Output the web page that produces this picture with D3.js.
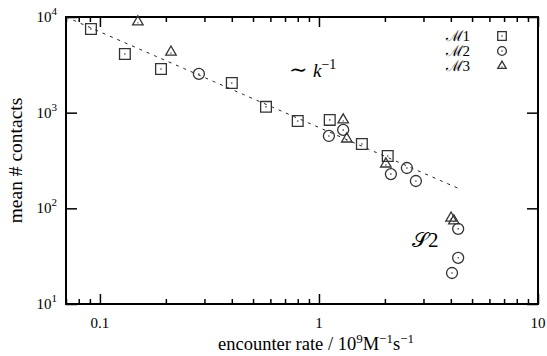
<!DOCTYPE html>
<html>
<head>
<meta charset="utf-8">
<script src="https://cdn.jsdelivr.net/npm/d3@7/dist/d3.min.js"></script>
<style>
  html, body { margin: 0; padding: 0; background: #fff; }
  svg { display: block; }
  text { font-family: "Liberation Serif", "DejaVu Serif", serif; fill: #000; }
</style>
</head>
<body>
<svg id="chart" width="547" height="356"></svg>
<script>
// Encounter rate (10^9 M^-1 s^-1) and mean number of contacts for three models
const m1Rate = [0.091, 0.130, 0.19, 0.40, 0.573, 0.80, 1.12, 1.57, 2.06];
const m1Contacts = [7500, 4100, 2860, 2040, 1150, 818, 840, 471, 353];

const m2Rate = [0.283, 1.11, 1.29, 2.13, 2.52, 2.77, 4.32, 4.32, 4.05];
const m2Contacts = [2540, 571, 660, 228, 264, 193, 61, 30.4, 21.1];

const m3Rate = [0.149, 0.211, 1.29, 1.34, 2.02, 4.01, 4.13];
const m3Contacts = [8900, 4300, 840, 531, 291, 79, 74];

// Reference power law  contacts ~ C / k
const fitConst = 700;
const fitRange = [0.07, 4.4];

const xTicks = [0.1, 1, 10];
const xTickLabels = ["0.1", "1", "10"];
const xMinorTicks = [0.07, 0.08, 0.09, 0.2, 0.3, 0.4, 0.5, 0.6, 0.7, 0.8, 0.9,
                     2, 3, 4, 5, 6, 7, 8, 9];
const yTicks = [10, 100, 1000, 10000];
const yTickExp = ["1", "2", "3", "4"];

const seriesNames = ["1", "2", "3"];

const svg = d3.select("#chart");
const margin = {left: 66, right: 9, top: 17, bottom: 52};
const W = 547, H = 356;
const iw = W - margin.left - margin.right;
const ih = H - margin.top - margin.bottom;

const x = d3.scaleLog().domain([0.07, 10]).range([margin.left, margin.left + iw]);
const y = d3.scaleLog().domain([10, 10000]).range([margin.top + ih, margin.top]);

const g = svg.append("g");

// tick marks, drawn inward on all four sides
function tickAxis(axisFn, scale, vals, size, transform) {
  const a = axisFn(scale).tickValues(vals).tickSize(size).tickFormat("");
  const sel = g.append("g").attr("transform", transform).call(a);
  sel.select(".domain").remove();
  sel.selectAll("line").attr("stroke", "#000").attr("stroke-width", 1.5);
  return sel;
}
tickAxis(d3.axisBottom, x, xTicks, -10, `translate(0,${margin.top + ih})`);
tickAxis(d3.axisBottom, x, xMinorTicks, -5, `translate(0,${margin.top + ih})`);
tickAxis(d3.axisTop, x, xTicks, -10, `translate(0,${margin.top})`);
tickAxis(d3.axisTop, x, xMinorTicks, -5, `translate(0,${margin.top})`);
tickAxis(d3.axisLeft, y, yTicks, -11, `translate(${margin.left},0)`);
tickAxis(d3.axisRight, y, yTicks, -11, `translate(${margin.left + iw},0)`);

// frame
g.append("rect")
  .attr("x", margin.left).attr("y", margin.top)
  .attr("width", iw).attr("height", ih)
  .attr("fill", "none").attr("stroke", "#000").attr("stroke-width", 2);

// x tick labels
g.selectAll(".xl").data(xTicks).join("text")
  .attr("x", d => x(d)).attr("y", margin.top + ih + 24)
  .attr("text-anchor", "middle").attr("font-size", 15)
  .text((d, i) => xTickLabels[i]);

// y tick labels 10^n
const yl = g.selectAll(".yl").data(yTicks).join("text")
  .attr("x", margin.left - 9).attr("y", d => y(d) + 5)
  .attr("text-anchor", "end").attr("font-size", 15);
yl.append("tspan").text("10");
yl.append("tspan").attr("font-size", 11).attr("dy", -7).text((d, i) => yTickExp[i]);

// axis titles
const xt = g.append("text")
  .attr("x", margin.left + iw / 2 + 14).attr("y", 350)
  .attr("text-anchor", "middle").attr("font-size", 18.5);
xt.append("tspan").text("encounter rate / 10");
xt.append("tspan").attr("font-size", 13).attr("dy", -7).text("9");
xt.append("tspan").attr("dy", 7).text("M");
xt.append("tspan").attr("font-size", 13).attr("dy", -7).text("\u22121");
xt.append("tspan").attr("dy", 7).text("s");
xt.append("tspan").attr("font-size", 13).attr("dy", -7).text("\u22121");

g.append("text")
  .attr("transform", `translate(22,${margin.top + ih / 2}) rotate(-90)`)
  .attr("text-anchor", "middle").attr("font-size", 19.5)
  .text("mean # contacts");

// dashed power-law guide
const fitPts = d3.range(0, 41).map(i => {
  const lk = Math.log10(fitRange[0]) + i / 40 * (Math.log10(fitRange[1]) - Math.log10(fitRange[0]));
  const k = Math.pow(10, lk);
  return [k, fitConst / k];
});
g.append("path")
  .attr("d", d3.line().x(d => x(d[0])).y(d => y(d[1]))(fitPts))
  .attr("fill", "none").attr("stroke", "#222").attr("stroke-width", 1)
  .attr("stroke-dasharray", "3,5");

const ink = "#333";

function drawSquare(sel, s = 1) {
  sel.append("path").attr("d", d3.symbol(d3.symbolSquare, 115 * s * s)())
    .attr("fill", "none").attr("stroke", ink).attr("stroke-width", 1.3);
  sel.append("circle").attr("r", 0.8).attr("fill", ink);
}
function drawCircle(sel, s = 1) {
  sel.append("path").attr("d", d3.symbol(d3.symbolCircle, 95 * s * s)())
    .attr("fill", "none").attr("stroke", ink).attr("stroke-width", 1.3);
  sel.append("circle").attr("r", 0.8).attr("fill", ink);
}
function drawTriangle(sel, s = 1) {
  sel.append("path").attr("d", d3.symbol(d3.symbolTriangle, 48 * s * s)())
    .attr("fill", "none").attr("stroke", ink).attr("stroke-width", 1.3);
  sel.append("circle").attr("r", 0.7).attr("cy", 1).attr("fill", ink);
}

function plotSeries(xs, ys, drawer) {
  g.append("g").selectAll("g").data(xs.map((v, i) => [v, ys[i]])).join("g")
    .attr("transform", d => `translate(${x(d[0])},${y(d[1])})`)
    .each(function () { drawer(d3.select(this)); });
}
plotSeries(m1Rate, m1Contacts, drawSquare);
plotSeries(m2Rate, m2Contacts, drawCircle);
plotSeries(m3Rate, m3Contacts, drawTriangle);

// annotations
const ann = g.append("text").attr("x", 289).attr("y", 77).attr("font-size", 19);
ann.append("tspan").attr("font-size", 22).text("\u223C ");
ann.append("tspan").attr("font-style", "italic").text("k");
ann.append("tspan").attr("font-size", 14).attr("dy", -8).text("\u22121");

const s2 = g.append("text").attr("x", 412).attr("y", 247).attr("font-size", 21);
s2.append("tspan").text("\uD835\uDCAE");
s2.append("tspan").text("2");

// legend
const legRows = [36, 51, 66];
const drawers = [drawSquare, drawCircle, drawTriangle];
seriesNames.forEach((s, i) => {
  g.append("text").attr("x", 470).attr("y", legRows[i] + 5)
    .attr("text-anchor", "end").attr("font-size", 15).text("\u2133" + s);
  const lg = g.append("g").attr("transform", `translate(502,${legRows[i]})`);
  drawers[i](lg, 0.8);
});
</script>
</body>
</html>
